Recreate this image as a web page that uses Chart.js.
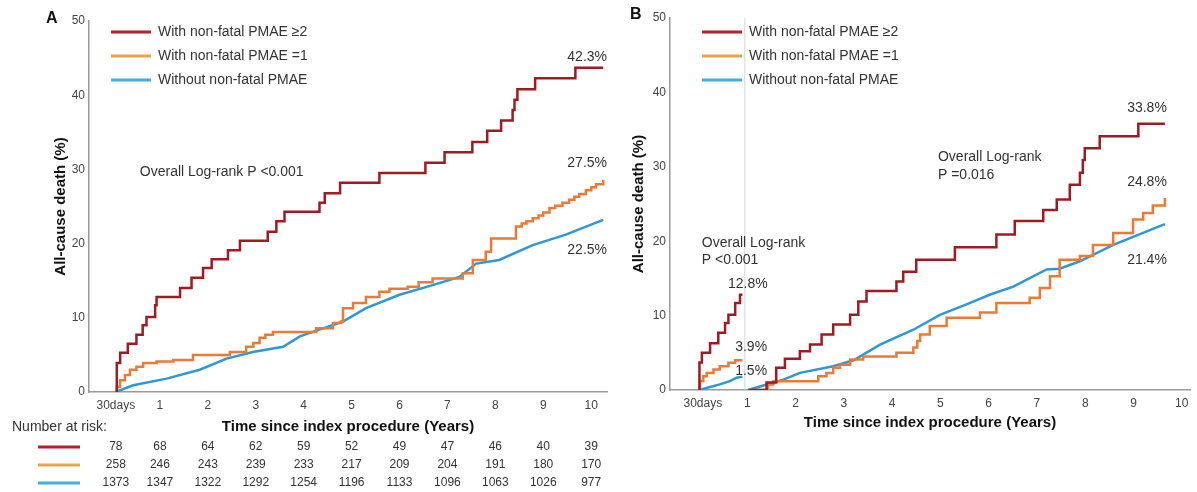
<!DOCTYPE html>
<html lang="en">
<head>
<meta charset="UTF-8">
<title>All-cause death by non-fatal PMAE</title>
<style>
  * { margin: 0; padding: 0; box-sizing: border-box; }
  body { background: #fff; width: 1197px; height: 492px; overflow: hidden; position: relative; }
  canvas { position: absolute; top: 0; }
  #chartA { left: 0; }
  #chartB { left: 620px; }
</style>
</head>
<body>
<canvas id="chartA" width="620" height="492"></canvas>
<canvas id="chartB" width="577" height="492"></canvas>

<script src="https://cdn.jsdelivr.net/npm/chart.js"></script>
<script>
// x ticks (years since index procedure)
const xTickValues = [0.08, 1, 2, 3, 4, 5, 6, 7, 8, 9, 10];
const xTickLabels = ["30days", "1", "2", "3", "4", "5", "6", "7", "8", "9", "10"];
const groupNames = ["With non-fatal PMAE \u22652", "With non-fatal PMAE =1", "Without non-fatal PMAE"];

// panel A: cumulative all-cause death (%) - [year, %]
const aSevere = [[0.08,0],[0.1,3.9],[0.17,5.3],[0.33,6.5],[0.51,7.7],[0.64,9.0],[0.72,10.1],[0.9,11.7],[0.93,12.8],
  [1.42,14.0],[1.66,15.4],[1.9,16.7],[2.08,17.9],[2.42,19.1],[2.67,20.4],[3.25,21.6],[3.43,23.0],[3.6,24.3],
  [4.33,25.5],[4.44,26.8],[4.76,28.2],[5.58,29.5],[6.54,30.9],[6.94,32.3],[7.52,33.7],[7.83,35.2],[8.12,36.6],
  [8.36,38.0],[8.4,39.4],[8.46,40.8],[8.83,42.3],[9.67,43.7],[10.25,43.7]];
const aSingle = [[0.08,0],[0.1,0.7],[0.17,1.6],[0.27,2.3],[0.375,3.0],[0.51,3.4],[0.65,3.9],[0.93,4.1],[1.28,4.3],
  [1.69,5.0],[2.46,5.4],[2.8,6.1],[2.95,6.6],[3.08,7.3],[3.2,7.7],[3.36,8.1],[4.26,8.6],[4.61,9.3],[4.78,9.5],[4.82,11.3],
  [5.03,12.0],[5.3,12.8],[5.58,13.5],[5.79,13.9],[6.17,14.2],[6.4,14.8],[6.69,15.3],[7.32,16.0],[7.53,17.8],[7.8,18.9],
  [7.91,20.7],[8.43,22.3],[8.55,22.7],[8.65,23.0],[8.78,23.4],[8.9,23.8],[9.0,24.2],[9.13,24.8],[9.25,25.1],[9.4,25.5],
  [9.54,25.9],[9.65,26.3],[9.75,26.7],[9.89,27.2],[10.0,27.6],[10.1,28.0],[10.25,28.6]];
const aNone = [[0.08,0],[0.44,0.9],[1.14,1.8],[1.83,3.0],[2.39,4.5],[2.94,5.4],[3.57,6.1],[3.92,7.5],[4.33,8.4],
  [4.82,9.5],[5.3,11.3],[6.0,13.1],[6.69,14.4],[7.25,15.5],[7.6,17.3],[8.08,17.8],[8.78,19.8],[9.47,21.2],[10.25,23.2]];

// number at risk (panel A)
const riskSevere = [78, 68, 64, 62, 59, 52, 49, 47, 46, 40, 39];
const riskSingle = [258, 246, 243, 239, 233, 217, 209, 204, 191, 180, 170];
const riskNone = [1373, 1347, 1322, 1292, 1254, 1196, 1133, 1096, 1063, 1026, 977];

// panel B: landmark analysis, 30 days - 1 year and after 1 year
const bSevereEarly = [[0,0],[0.01,3.7],[0.06,5.0],[0.23,6.3],[0.4,7.7],[0.54,9.0],[0.61,10.1],[0.75,11.7],[0.85,12.8],[0.9,12.8]];
const bSingleEarly = [[0,0],[0.02,1.2],[0.09,1.85],[0.16,2.3],[0.3,2.75],[0.43,3.2],[0.61,3.65],[0.75,4.0],[0.9,4.0]];
const bNoneEarly = [[0,0],[0.23,0.4],[0.43,0.75],[0.64,1.2],[0.78,1.65],[0.9,1.8]];
const bSevereLate = [[1.02,0],[1.4,1.0],[1.6,3.0],[1.78,4.2],[2.09,5.2],[2.3,6.1],[2.54,7.45],[2.78,8.8],[3.13,10.1],
  [3.3,11.9],[3.47,13.3],[4.09,14.6],[4.23,15.9],[4.5,17.5],[5.3,19.2],[6.16,20.9],[6.54,22.7],[7.13,24.2],[7.41,25.6],
  [7.68,27.6],[7.89,29.2],[7.95,30.9],[7.99,32.5],[8.3,34.1],[9.1,35.8],[9.65,35.8]];
const bSingleLate = [[1.02,0],[1.43,0.74],[1.54,1.18],[2.47,1.85],[2.64,2.3],[2.78,3.0],[2.92,3.4],[3.13,4.1],[3.4,4.5],
  [4.09,5.0],[4.44,5.7],[4.52,6.6],[4.58,7.45],[4.78,8.6],[5.13,9.7],[5.82,10.4],[6.16,11.7],[6.85,12.4],[7.06,13.7],
  [7.27,15.3],[7.47,17.5],[7.89,18.0],[8.16,19.5],[8.58,21.1],[8.99,22.9],[9.2,23.8],[9.4,24.8],[9.65,25.8]];
const bNoneLate = [[1.02,0],[1.4,0.74],[1.75,1.4],[2.09,2.3],[2.78,3.2],[3.2,4.0],[3.75,6.1],[4.44,8.1],[4.99,10.1],
  [5.54,11.5],[6.02,12.8],[6.51,13.9],[7.2,16.2],[7.47,16.3],[7.89,17.3],[8.58,19.5],[9.61,22.2],[9.65,22.3]];

const lineColors = ["#9e1b22", "#ea7a35", "#2e98d6"];
const legendColors = ["#b3212b", "#e9a448", "#43acdc"];
const FONT = '"Liberation Sans", Arial, sans-serif';
const TEXT = "#333";

function pts(arr) { return arr.map(p => ({ x: p[0], y: p[1] })); }

function curve(arr, i, stepped) {
  return {
    data: pts(arr),
    borderColor: lineColors[i],
    borderWidth: 2.5,
    pointRadius: 0,
    fill: false,
    tension: 0,
    stepped: stepped ? "before" : false
  };
}

function txt(ctx, s, x, y, font, align, color) {
  ctx.font = font;
  ctx.textAlign = align || "left";
  ctx.textBaseline = "middle";
  ctx.fillStyle = color || TEXT;
  ctx.fillText(s, x, y);
}

// letters, legend, notes, x title, landmark line, risk table
const overlay = {
  id: "overlay",
  afterDraw(chart, args, o) {
    const ctx = chart.ctx;
    const xs = chart.scales.x, ys = chart.scales.y;
    const area = chart.chartArea;
    ctx.save();
    if (o.landmark != null) {
      const lx = xs.getPixelForValue(o.landmark);
      ctx.strokeStyle = "#d4d4d4";
      ctx.lineWidth = 1;
      ctx.beginPath();
      ctx.moveTo(lx, area.top);
      ctx.lineTo(lx, area.bottom);
      ctx.stroke();
    }
    txt(ctx, o.letter, o.letterX, o.letterY, "bold 16px " + FONT, "left", "#111");
    groupNames.forEach((name, i) => {
      const y = 32 + i * 24;
      ctx.strokeStyle = legendColors[i];
      ctx.lineWidth = 3;
      ctx.beginPath();
      ctx.moveTo(o.legendX, y);
      ctx.lineTo(o.legendX + 40, y);
      ctx.stroke();
      txt(ctx, name, o.legendX + 47, y, "14px " + FONT);
    });
    o.notes.forEach(n => {
      txt(ctx, n.text, xs.getPixelForValue(n.x), ys.getPixelForValue(n.y), "14px " + FONT, n.align);
    });
    txt(ctx, "Time since index procedure (Years)", (area.left + area.right) / 2, o.titleY, "bold 15px " + FONT, "center", "#111");
    if (o.table) {
      txt(ctx, "Number at risk:", 12, 427, "14px " + FONT);
      [riskSevere, riskSingle, riskNone].forEach((row, r) => {
        const y = 447 + r * 18;
        ctx.strokeStyle = legendColors[r];
        ctx.lineWidth = 3;
        ctx.beginPath();
        ctx.moveTo(38, y);
        ctx.lineTo(80, y);
        ctx.stroke();
        row.forEach((v, i) => {
          txt(ctx, String(v), xs.getPixelForValue(xTickValues[i]), y, "12px " + FONT, "center");
        });
      });
    }
    ctx.restore();
  }
};

function makeOptions(xmin, xmax, pad, yWidth, xHeight, ov) {
  return {
    responsive: false,
    animation: false,
    devicePixelRatio: 1,
    layout: { padding: pad },
    plugins: { legend: { display: false }, tooltip: { enabled: false }, overlay: ov },
    scales: {
      x: {
        type: "linear",
        min: xmin,
        max: xmax,
        grid: { display: false, drawTicks: false },
        border: { color: "#9a9a9a", width: 1.5 },
        ticks: {
          autoSkip: false,
          maxRotation: 0,
          padding: 6,
          color: "#444",
          font: { family: FONT, size: 12 },
          callback: v => xTickLabels[xTickValues.indexOf(v)]
        },
        afterBuildTicks: s => { s.ticks = xTickValues.map(v => ({ value: v })); },
        afterFit: s => { s.height = xHeight; }
      },
      y: {
        min: 0,
        max: 50,
        grid: { display: false, drawTicks: false },
        border: { color: "#9a9a9a", width: 1.5 },
        ticks: { stepSize: 10, padding: 4, color: "#444", font: { family: FONT, size: 12 } },
        title: {
          display: true,
          text: "All-cause death (%)",
          color: "#111",
          padding: 0,
          font: { family: FONT, size: 15, weight: "bold" }
        },
        afterFit: s => { s.width = yWidth; }
      }
    }
  };
}

new Chart(document.getElementById("chartA"), {
  type: "line",
  data: { datasets: [curve(aSevere, 0, true), curve(aSingle, 1, true), curve(aNone, 2, false)] },
  options: makeOptions(-0.48, 10.33, { left: 52, top: 21, right: 13, bottom: 0 }, 37, 100, {
    letter: "A", letterX: 46, letterY: 19, legendX: 111, titleY: 427, table: true, landmark: null,
    notes: [
      { text: "Overall Log-rank P <0.001", x: 0.58, y: 29.6, align: "left" },
      { text: "42.3%", x: 10.33, y: 45.1, align: "right" },
      { text: "27.5%", x: 10.33, y: 30.9, align: "right" },
      { text: "22.5%", x: 10.33, y: 19.1, align: "right" }
    ]
  }),
  plugins: [overlay]
});

new Chart(document.getElementById("chartB"), {
  type: "line",
  data: {
    datasets: [
      curve(bSevereEarly, 0, true), curve(bSevereLate, 0, true),
      curve(bSingleEarly, 1, true), curve(bSingleLate, 1, true),
      curve(bNoneEarly, 2, false), curve(bNoneLate, 2, false)
    ]
  },
  options: makeOptions(-0.6, 10.17, { left: 10, top: 18, right: 7, bottom: 0 }, 40, 102, {
    letter: "B", letterX: 10, letterY: 15, legendX: 82, titleY: 423, table: false, landmark: 0.95,
    notes: [
      { text: "Overall Log-rank", x: 4.95, y: 31.3, align: "left" },
      { text: "P =0.016", x: 4.95, y: 28.9, align: "left" },
      { text: "33.8%", x: 9.69, y: 37.9, align: "right" },
      { text: "24.8%", x: 9.69, y: 27.9, align: "right" },
      { text: "21.4%", x: 9.69, y: 17.5, align: "right" },
      { text: "Overall Log-rank", x: 0.06, y: 19.8, align: "left" },
      { text: "P <0.001", x: 0.06, y: 17.4, align: "left" },
      { text: "12.8%", x: 0.6, y: 14.2, align: "left" },
      { text: "3.9%", x: 0.75, y: 5.7, align: "left" },
      { text: "1.5%", x: 0.75, y: 2.6, align: "left" }
    ]
  }),
  plugins: [overlay]
});
</script>
</body>
</html>
